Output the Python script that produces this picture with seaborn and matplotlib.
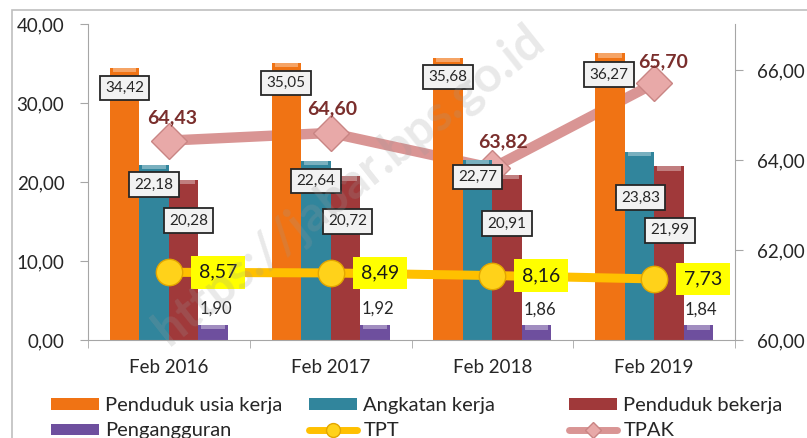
import numpy as np
import pandas as pd
import seaborn as sns
import matplotlib.pyplot as plt
from matplotlib.patches import Rectangle, Patch
from matplotlib.lines import Line2D
from matplotlib.ticker import FuncFormatter
from matplotlib.colors import to_rgb

# data
periods = ['Feb 2016', 'Feb 2017', 'Feb 2018', 'Feb 2019']
usia_kerja = [34.42, 35.05, 35.68, 36.27]
angkatan_kerja = [22.18, 22.64, 22.77, 23.83]
penduduk_bekerja = [20.28, 20.72, 20.91, 21.99]
pengangguran = [1.90, 1.92, 1.86, 1.84]
tpt = [8.57, 8.49, 8.16, 7.73]
tpak = [64.43, 64.60, 63.82, 65.70]

series_names = ['Penduduk usia kerja', 'Angkatan kerja', 'Penduduk bekerja', 'Pengangguran']
bar_colors = ['#F07314', '#31859C', '#A0393A', '#6E4F9E']

sns.set_style('white')
plt.rcParams['font.family'] = ['Lato', 'DejaVu Sans']
plt.rcParams['text.color'] = '#262626'

df = pd.DataFrame({
    'period': periods * 4,
    'series': np.repeat(series_names, 4),
    'value': usia_kerja + angkatan_kerja + penduduk_bekerja + pengangguran,
})

W, H = 807, 438
fig, ax = plt.subplots(figsize=(W / 100, H / 100), dpi=100)
plt.subplots_adjust(left=88 / W, right=735 / W, top=1 - 24 / H, bottom=1 - 340 / H)

sns.barplot(data=df, x='period', y='value', hue='series', hue_order=series_names,
            palette=bar_colors, width=0.73, saturation=1, legend=False, ax=ax,
            linewidth=0, zorder=2)

def fmt(v):
    return f'{v:.2f}'.replace('.', ',')

# lighter cap on the bar tops (bevel look)
for cont, col in zip(ax.containers, bar_colors):
    light = tuple(min(1, c + (1 - c) * 0.35) for c in to_rgb(col))
    for b in cont:
        x, w, h = b.get_x(), b.get_width(), b.get_height()
        ax.add_patch(Rectangle((x + w * 0.1, h - 0.55), w * 0.8, 0.55, fc=light,
                               ec='none', zorder=3))

# bar labels (manual offsets in pixels like the original layout)
offsets = [
    [(0, -20), (0, -20), (0, -19), (-1, -21)],
    [(0, -20), (0, -20), (0, -17), (1, -46)],
    [(5, -41), (2, -45), (0, -49), (1, -64)],
]
box = dict(boxstyle='square,pad=0.35', fc='#F2F2F2', ec='#262626', lw=1.3)
for cont, offs in zip(ax.containers[:3], offsets):
    for b, (dx, dy) in zip(cont, offs):
        ax.annotate(fmt(b.get_height()), (b.get_x() + b.get_width() / 2, b.get_height()),
                    xytext=(dx, dy), textcoords='offset pixels', ha='center', va='center',
                    fontsize=11, bbox=box, zorder=8)
for b in ax.containers[3]:
    ax.annotate(fmt(b.get_height()), (b.get_x() + b.get_width() / 2, b.get_height()),
                xytext=(3, 16), textcoords='offset pixels', ha='center', va='center',
                fontsize=12, zorder=8)

# TPT line on the left axis
sns.pointplot(x=periods, y=tpt, ax=ax, color='#FFC000', markers='o', linestyles='-',
              errorbar=None, linewidth=6.5, markersize=19, markerfacecolor='#FFD21A',
              markeredgecolor='#E3A600', markeredgewidth=1, zorder=6)
for i, v in enumerate(tpt):
    ax.annotate(fmt(v), (i, v), xytext=(49, 0), textcoords='offset pixels',
                ha='center', va='center', fontsize=14, color='#1a1a1a',
                bbox=dict(boxstyle='square,pad=0.4', fc='#FFFF00', ec='none'), zorder=9)

# TPAK on the secondary axis, drawn behind the bars
ax2 = ax.twinx()
sns.pointplot(x=periods, y=tpak, ax=ax2, color='#D99594', markers='D', linestyles='-',
              errorbar=None, linewidth=7.5, markersize=18, markerfacecolor='#E8A9A8',
              markeredgecolor='#C98584', markeredgewidth=1)
ax.set_zorder(ax2.get_zorder() + 1)
ax.patch.set_visible(False)
ax2.set_ylim(60, 67.02)
ax2.set_yticks([60, 62, 64, 66])

tpak_offs = [(3, 23), (2, 24), (11, 26), (9, 22)]
for i, (v, (dx, dy)) in enumerate(zip(tpak, tpak_offs)):
    ax.annotate(fmt(v), (i, v), xycoords=ax2.transData, xytext=(dx, dy),
                textcoords='offset pixels', ha='center', va='center', fontsize=14,
                fontweight='bold', color='#7A2E2C', zorder=9)

# axes styling
grey = '#A6A6A6'
ax.set_ylim(0, 40)
ax.set_yticks([0, 10, 20, 30, 40])
ax.set_xlim(-0.5, 3.5)
ax.set_xticks(range(4))
ax.set_xticklabels(periods)
ax.set_xticks(np.arange(-0.5, 4, 1), minor=True)
ax.set_xlabel('')
ax.set_ylabel('')
ax2.set_ylabel('')
ax.yaxis.set_major_formatter(FuncFormatter(lambda v, p: fmt(v)))
ax2.yaxis.set_major_formatter(FuncFormatter(lambda v, p: fmt(v)))

for s in ['top', 'right']:
    ax.spines[s].set_visible(False)
for s in ['top', 'left', 'bottom']:
    ax2.spines[s].set_visible(False)
for s in ['left', 'bottom']:
    ax.spines[s].set_color(grey)
ax2.spines['right'].set_color(grey)

ax.tick_params(axis='y', length=6, color=grey, pad=11, labelsize=13.5, labelcolor='#262626', left=True)
ax.tick_params(axis='x', which='major', length=0, pad=14, labelsize=13.5, labelcolor='#262626')
ax.tick_params(axis='x', which='minor', length=6, color=grey, bottom=True)
ax2.tick_params(axis='y', length=6, color=grey, pad=10, labelsize=13.5, labelcolor='#262626', right=True)

# legends: three equal-width columns like Excel
handles = [Patch(fc=c, ec='none') for c in bar_colors]
h_tpt = Line2D([], [], color='#FFC000', lw=5, marker='o', markersize=10,
               markerfacecolor='#FFD21A', markeredgecolor='#E3A600')
h_tpak = Line2D([], [], color='#D99594', lw=5, marker='D', markersize=8,
                markerfacecolor='#E8A9A8', markeredgecolor='#C98584')
columns = [
    (51, [handles[0], handles[3]], [series_names[0], series_names[3]]),
    (309, [handles[1], h_tpt], [series_names[1], 'TPT']),
    (569, [handles[2], h_tpak], [series_names[2], 'TPAK']),
]
for x, hs, ls in columns:
    fig.legend(hs, ls, loc='upper left', bbox_to_anchor=(x / W, 1 - 397 / H), frameon=False,
               borderpad=0, borderaxespad=0, handlelength=2.4, handleheight=0.5,
               handletextpad=0.3, labelspacing=0.42, fontsize=14.5)

# watermark
fig.text(160 / W, 1 - 335 / H, 'https://jabar.bps.go.id', rotation=38.5, rotation_mode='anchor',
         ha='left', va='center', fontsize=35, fontweight='bold', color='#999999', alpha=0.22,
         zorder=10)

# outer chart border
fig.add_artist(Rectangle((12 / W, -0.05), 1.0, (H - 10) / H + 0.05, transform=fig.transFigure,
                         fill=False, ec='#BFBFBF', lw=1.2))

fig.patch.set_facecolor('white')
plt.savefig('out.png', dpi=100)
